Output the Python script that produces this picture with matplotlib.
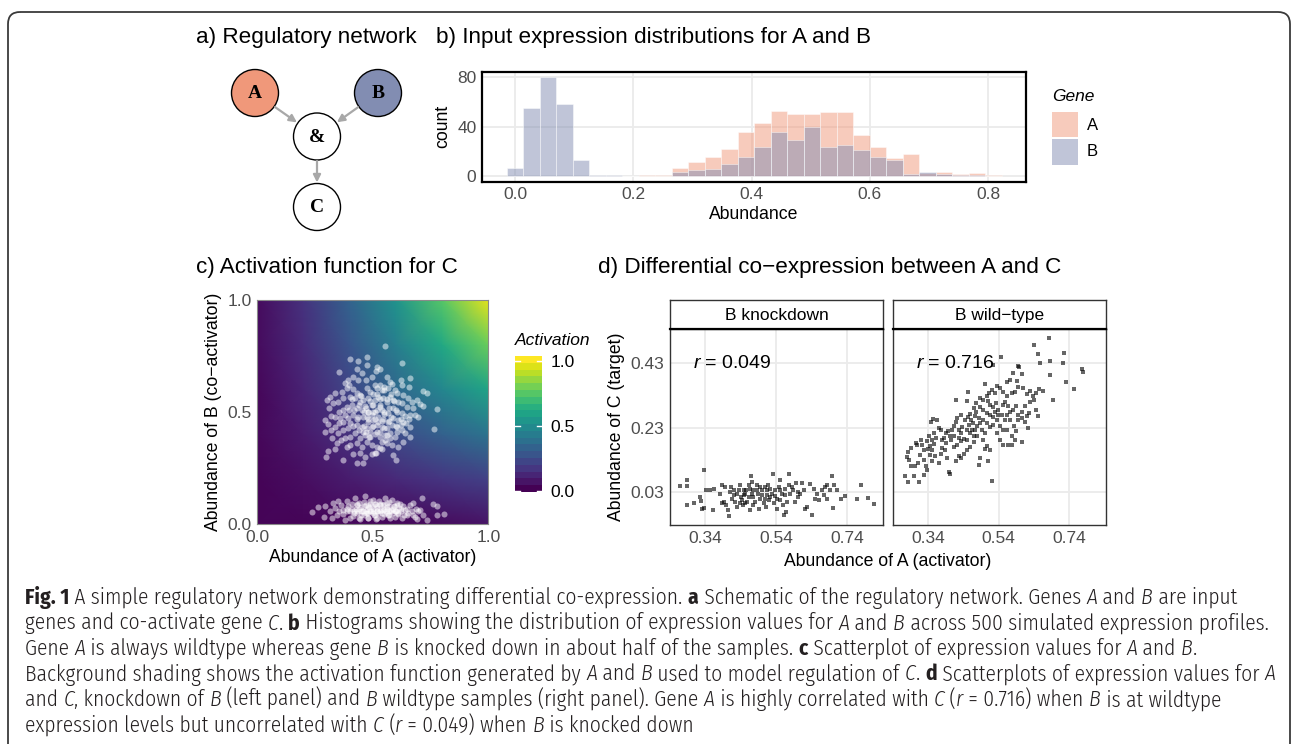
import numpy as np
import matplotlib
matplotlib.use("Agg")
import matplotlib.pyplot as plt
from matplotlib.patches import Circle, FancyBboxPatch, Rectangle, FancyArrowPatch
from matplotlib import font_manager

# ---------------- DATA ----------------
bin_width = 0.0279
count_A = [0, 0, 0, 0, 0, 0, 0, 0, 1, 1, 7, 12, 16, 22, 36, 43, 53, 50, 50, 52,
           52, 33, 24, 15, 18, 3, 4, 2, 3, 1]
count_B = [7, 55, 80, 58, 13, 1, 1, 0, 0, 0, 4, 5, 6, 10, 16, 24, 36, 29, 40, 24,
           25, 21, 16, 13, 2, 4, 2, 1, 1, 0]
hist_xticks = [0.0, 0.2, 0.4, 0.6, 0.8]
hist_yticks = [0, 40, 80]

# activation surface read on a 6x6 grid (rows: B = 0..1, cols: A = 0..1)
act_levels = [0.0, 0.2, 0.4, 0.6, 0.8, 1.0]
activation = [
    [0.00, 0.00, 0.01, 0.01, 0.02, 0.04],
    [0.00, 0.03, 0.07, 0.11, 0.15, 0.19],
    [0.01, 0.06, 0.14, 0.23, 0.31, 0.39],
    [0.01, 0.09, 0.21, 0.34, 0.47, 0.60],
    [0.02, 0.12, 0.27, 0.44, 0.62, 0.80],
    [0.02, 0.14, 0.32, 0.53, 0.76, 1.00],
]

# panel c: B wild-type samples (A, B)
wt_A = [0.553,0.401,0.437,0.476,0.473,0.517,0.531,0.514,0.625,0.355,0.430,0.416,0.452,0.380,0.391,0.398,
        0.437,0.470,0.495,0.560,0.574,0.620,0.661,0.625,0.658,0.719,0.733,0.776,0.765,0.315,0.336,0.365,
        0.387,0.413,0.430,0.444,0.473,0.488,0.502,0.517,0.531,0.538,0.548,0.567,0.582,0.596,0.606,0.632,
        0.654,0.668,0.690,0.704,0.719,0.646,0.625,0.610,0.589,0.574,0.560,0.545,0.524,0.509,0.495,0.481,
        0.459,0.444,0.423,0.401,0.372,0.351,0.329,0.312,0.300,0.317,0.293,0.307,0.336,0.355,0.372,0.387,
        0.408,0.430,0.452,0.466,0.481,0.495,0.517,0.531,0.548,0.567,0.586,0.603,0.625,0.639,0.661,0.683,
        0.697,0.675,0.658,0.632,0.610,0.589,0.567,0.545,0.524,0.502,0.481,0.459,0.437,0.416,0.394,0.372,
        0.355,0.336,0.317,0.293,0.322,0.351,0.372,0.394,0.413,0.430,0.452,0.473,0.495,0.517,0.538,0.560,
        0.582,0.603,0.625,0.639,0.661,0.632,0.596,0.574,0.553,0.531,0.509,0.488,0.466,0.444,0.423,0.401,
        0.380,0.401,0.430,0.452,0.473,0.495,0.517,0.538,0.560,0.538,0.509,0.495,0.466,0.444,0.416,0.387,
        0.372,0.336,0.307,0.297,0.430,0.459,0.514,0.531,0.589,0.600,0.553,0.582,0.610,0.343,0.361,0.603,
        0.574,0.485,0.456,0.524,0.502,0.473,0.398,0.380,0.358,0.661,0.644,0.620,
        0.47,0.49,0.51,0.53,0.55,0.57,0.52,0.48,0.50,0.54,0.56,0.58,0.46,0.44,0.43,0.52,0.55,0.49,0.46,
        0.59,0.60,0.51,0.53,0.45,0.57,0.50,0.54,0.48,0.42,0.56,0.40,0.62,0.47,0.53,0.58,0.44,0.41,0.51,
        0.55,0.60]
wt_B = [0.795,0.735,0.729,0.747,0.710,0.703,0.691,0.683,0.720,0.677,0.691,0.658,0.673,0.628,0.643,0.621,
        0.643,0.643,0.658,0.655,0.636,0.643,0.651,0.621,0.613,0.596,0.587,0.512,0.426,0.569,0.584,0.591,
        0.606,0.601,0.584,0.576,0.606,0.591,0.581,0.606,0.621,0.599,0.613,0.606,0.625,0.599,0.584,0.576,
        0.561,0.547,0.554,0.536,0.527,0.524,0.539,0.547,0.554,0.569,0.547,0.561,0.569,0.554,0.532,0.561,
        0.554,0.547,0.561,0.569,0.561,0.547,0.539,0.517,0.554,0.483,0.465,0.447,0.477,0.502,0.509,0.524,
        0.532,0.517,0.509,0.527,0.502,0.487,0.509,0.524,0.502,0.494,0.517,0.502,0.494,0.483,0.487,0.487,
        0.477,0.517,0.468,0.457,0.465,0.472,0.457,0.468,0.480,0.465,0.457,0.477,0.480,0.487,0.472,0.457,
        0.450,0.435,0.420,0.413,0.383,0.405,0.420,0.428,0.438,0.442,0.435,0.428,0.435,0.442,0.435,0.428,
        0.442,0.435,0.420,0.405,0.390,0.368,0.390,0.405,0.398,0.413,0.402,0.413,0.398,0.383,0.405,0.390,
        0.383,0.353,0.361,0.346,0.368,0.353,0.346,0.368,0.361,0.334,0.316,0.313,0.301,0.316,0.313,0.343,
        0.286,0.334,0.328,0.301,0.275,0.272,0.316,0.338,0.309,0.286,0.376,0.353,0.346,0.361,0.376,0.413,
        0.383,0.390,0.413,0.457,0.502,0.480,0.509,0.487,0.472,0.435,0.450,0.442,
        0.52,0.55,0.50,0.53,0.49,0.52,0.58,0.47,0.44,0.46,0.56,0.48,0.50,0.53,0.47,0.41,0.43,0.39,0.44,
        0.55,0.51,0.47,0.56,0.57,0.46,0.53,0.51,0.50,0.51,0.40,0.45,0.47,0.41,0.39,0.58,0.42,0.56,0.62,
        0.60,0.44]

# panel c: B knockdown samples (A, B)
kd_A = [0.235,0.264,0.293,0.289,0.315,0.329,0.336,0.351,0.344,0.361,0.370,0.380,0.387,0.394,0.401,0.408,
        0.416,0.423,0.427,0.433,0.442,0.447,0.456,0.462,0.466,0.471,0.476,0.481,0.488,0.495,0.499,0.505,
        0.509,0.517,0.524,0.528,0.534,0.540,0.546,0.553,0.557,0.563,0.567,0.572,0.577,0.582,0.586,0.592,
        0.596,0.600,0.606,0.610,0.615,0.621,0.625,0.632,0.639,0.647,0.654,0.661,0.668,0.675,0.683,0.687,
        0.697,0.712,0.719,0.733,0.759,0.776,0.776,0.808,0.372,0.387,0.401,0.430,0.445,0.473,0.491,0.514,
        0.531,0.548,0.560,0.574,0.589,0.603,0.618,0.635,0.649,0.673,0.690,0.704,0.355,0.419,0.452,0.485,
        0.520,0.543,0.572,0.596,0.322,
        0.42,0.44,0.46,0.48,0.50,0.52,0.54,0.56,0.58,0.45,0.47,0.49,0.51,0.53,0.55,0.57,0.43,0.41,0.59,
        0.61,0.46,0.50,0.52,0.44,0.48,0.55,0.62,0.39,0.47,0.53,0.49,0.51,0.45,0.57,0.60,0.43,0.52,0.48,
        0.56,0.50]
kd_B = [0.053,0.076,0.080,0.031,0.058,0.095,0.073,0.102,0.043,0.085,0.065,0.021,0.102,0.080,0.058,0.090,
        0.036,0.117,0.070,0.050,0.095,0.076,0.061,0.043,0.125,0.087,0.070,0.028,0.102,0.080,0.058,0.040,
        0.090,0.073,0.050,0.105,0.065,0.031,0.085,0.117,0.058,0.076,0.043,0.099,0.065,0.110,0.050,0.080,
        0.031,0.061,0.095,0.046,0.073,0.058,0.028,0.080,0.065,0.040,0.050,0.087,0.061,0.095,0.031,0.070,
        0.058,0.117,0.043,0.021,0.090,0.080,0.040,0.046,0.046,0.058,0.028,0.087,0.025,0.050,0.061,0.025,
        0.085,0.046,0.095,0.028,0.070,0.085,0.090,0.043,0.070,0.040,0.025,0.065,0.061,0.061,0.058,0.076,
        0.058,0.065,0.058,0.058,0.028,
        0.05,0.07,0.08,0.05,0.07,0.08,0.05,0.07,0.06,0.04,0.06,0.09,0.04,0.06,0.09,0.04,0.09,0.07,0.08,
        0.05,0.10,0.11,0.03,0.03,0.08,0.07,0.07,0.07,0.05,0.09,0.06,0.09,0.06,0.08,0.06,0.06,0.06,0.03,
        0.05,0.05]

# panel d: knockdown facet (A, C)
dkd_A = [0.268,0.288,0.288,0.335,0.288,0.307,0.324,0.328,0.331,0.335,0.343,0.352,0.362,0.364,0.382,0.387,
         0.387,0.392,0.396,0.399,0.403,0.406,0.411,0.412,0.415,0.420,0.425,0.429,0.434,0.439,0.441,0.444,
         0.446,0.453,0.456,0.458,0.462,0.467,0.469,0.471,0.475,0.476,0.481,0.486,0.488,0.491,0.495,0.500,
         0.505,0.509,0.512,0.514,0.516,0.519,0.523,0.528,0.531,0.533,0.538,0.542,0.547,0.550,0.552,0.556,
         0.559,0.561,0.566,0.569,0.572,0.575,0.577,0.580,0.585,0.589,0.594,0.597,0.601,0.603,0.608,0.613,
         0.618,0.622,0.627,0.635,0.641,0.648,0.651,0.655,0.660,0.669,0.674,0.679,0.683,0.685,0.693,0.699,
         0.702,0.704,0.712,0.723,0.735,0.770,0.779,0.801,0.817,
         0.429,0.448,0.462,0.472,0.486,0.500,0.509,0.523,0.453,0.439,0.420,0.467,0.495,0.476,0.514,0.538,
         0.542,0.552,0.566,0.448]
dkd_C = [0.049,0.066,0.048,0.099,-0.011,-0.003,0.014,0.002,-0.022,-0.020,0.035,0.037,-0.025,0.040,0.025,0.051,
         -0.006,-0.001,0.046,-0.011,-0.027,-0.046,0.030,0.046,0.009,0.020,-0.001,-0.017,0.035,0.051,0.014,0.004,
         -0.011,0.025,0.035,-0.001,0.051,-0.027,0.079,0.061,0.035,0.014,-0.001,0.051,0.025,-0.022,0.009,0.035,
         -0.006,0.046,-0.017,0.020,0.051,0.006,0.040,0.025,0.085,-0.006,0.017,-0.022,0.046,0.004,0.066,0.025,
         -0.011,-0.043,0.040,-0.032,-0.001,0.051,0.087,0.023,0.046,0.035,-0.001,0.058,0.030,0.014,0.025,0.058,
         0.035,-0.022,-0.017,0.056,-0.043,0.040,0.009,0.025,0.004,0.035,0.020,0.046,0.009,0.051,0.035,0.079,
         -0.020,0.051,0.037,0.009,0.017,0.009,0.053,0.012,-0.009,
         0.025,0.020,0.014,0.025,0.035,0.020,0.009,0.014,-0.006,-0.006,0.035,0.040,0.046,-0.011,0.035,0.035,
         0.009,0.035,0.020,0.035]

# panel d: wild-type facet (A, C)
dwt_A = [0.682,0.639,0.651,0.726,0.684,0.721,0.656,0.776,0.780,0.547,0.525,0.598,0.595,0.581,0.605,0.572,
         0.563,0.592,0.684,0.731,0.754,0.695,0.654,0.665,0.647,0.637,0.628,0.621,0.609,0.595,0.586,0.577,
         0.564,0.553,0.544,0.534,0.530,0.520,0.514,0.506,0.502,0.452,0.450,0.418,0.477,0.488,0.497,0.511,
         0.516,0.525,0.533,0.539,0.551,0.558,0.567,0.572,0.581,0.589,0.595,0.605,0.614,0.619,0.626,0.630,
         0.639,0.647,0.651,0.595,0.605,0.614,0.623,0.583,0.589,0.577,0.586,0.567,0.577,0.607,0.563,0.553,
         0.544,0.534,0.525,0.516,0.506,0.497,0.488,0.477,0.469,0.460,0.452,0.446,0.432,0.422,0.420,0.427,
         0.436,0.413,0.408,0.402,0.396,0.390,0.385,0.377,0.371,0.366,0.354,0.349,0.362,0.357,0.351,0.346,
         0.340,0.336,0.329,0.324,0.318,0.305,0.293,0.282,0.280,0.287,0.303,0.312,0.329,0.333,0.338,0.347,
         0.352,0.359,0.371,0.380,0.376,0.387,0.394,0.402,0.400,0.418,0.427,0.434,0.441,0.450,0.460,0.469,
         0.483,0.488,0.502,0.506,0.516,0.511,0.520,0.497,0.480,0.469,0.460,0.450,0.443,0.434,0.422,0.413,
         0.405,0.467,0.478,0.488,0.497,0.506,0.516,0.525,0.534,0.544,0.553,0.483,0.474,0.462,0.455,0.275,
         0.284,0.299,0.315,0.329,0.291,0.319,0.308,0.352,0.343,0.357,0.380,0.390,0.413,0.427,0.432,0.450,
         0.464,0.474,0.492,0.502,0.558,0.549,0.539,0.530,0.563,0.572]
dwt_C = [0.508,0.488,0.459,0.463,0.437,0.430,0.432,0.411,0.404,0.451,0.426,0.418,0.422,0.401,0.396,0.378,
         0.373,0.376,0.393,0.373,0.350,0.316,0.349,0.344,0.337,0.327,0.345,0.334,0.352,0.356,0.342,0.337,
         0.327,0.342,0.352,0.358,0.337,0.347,0.337,0.327,0.365,0.342,0.313,0.316,0.308,0.321,0.316,0.314,
         0.301,0.294,0.308,0.285,0.301,0.311,0.296,0.280,0.285,0.296,0.270,0.280,0.296,0.265,0.277,0.309,
         0.316,0.285,0.267,0.254,0.259,0.249,0.228,0.234,0.218,0.203,0.192,0.177,0.177,0.184,0.223,0.223,
         0.234,0.254,0.263,0.270,0.275,0.285,0.294,0.280,0.290,0.273,0.263,0.254,0.270,0.259,0.246,0.223,
         0.231,0.236,0.223,0.203,0.218,0.213,0.197,0.223,0.228,0.254,0.256,0.249,0.197,0.179,0.192,0.174,
         0.163,0.187,0.159,0.177,0.146,0.182,0.166,0.154,0.140,0.130,0.112,0.120,0.130,0.110,0.099,0.146,
         0.125,0.143,0.120,0.166,0.149,0.161,0.135,0.087,0.091,0.125,0.143,0.135,0.149,0.161,0.169,0.184,
         0.115,0.135,0.163,0.172,0.161,0.125,0.063,0.192,0.203,0.203,0.213,0.223,0.194,0.187,0.177,0.169,
         0.192,0.244,0.234,0.244,0.254,0.244,0.231,0.239,0.213,0.192,0.177,0.259,0.265,0.254,0.239,0.078,
         0.060,0.078,0.060,0.084,0.112,0.192,0.177,0.161,0.203,0.213,0.192,0.182,0.203,0.197,0.213,0.192,
         0.223,0.223,0.223,0.213,0.254,0.270,0.270,0.280,0.270,0.254]
d_xticks = [0.34, 0.54, 0.74]
d_yticks = [0.03, 0.23, 0.43]
r_knockdown = "0.049"
r_wildtype = "0.716"

# ---------------- STYLE ----------------
W, H = 1292, 744
plt.rcParams['font.family'] = ['Liberation Sans', 'DejaVu Sans']
plt.rcParams['mathtext.fontset'] = 'custom'
plt.rcParams['mathtext.it'] = 'Liberation Sans:italic'
plt.rcParams['mathtext.rm'] = 'Liberation Sans'
COL_A = '#F0987A'
COL_B = '#828DB2'
GRID = '#EBEBEB'
TICKC = '#4D4D4D'
LBL = 12.7

fig = plt.figure(figsize=(W / 100, H / 100), dpi=100)
fig.patch.set_facecolor('white')


def frac(x0, y0, x1, y1):
    return [x0 / W, 1 - y1 / H, (x1 - x0) / W, (y1 - y0) / H]


ov = fig.add_axes([0, 0, 1, 1], zorder=10)
ov.set_xlim(0, W)
ov.set_ylim(H, 0)
ov.axis('off')
ov.patch.set_alpha(0)

# frame
ov.add_patch(FancyBboxPatch((8, 12), 1282, 800, boxstyle="round,pad=0,rounding_size=12",
                            fc='none', ec='#3a3a3a', lw=1.3, clip_on=False))

TS = 16.2
ov.text(196, 43, "a) Regulatory network", fontsize=TS, va='baseline')
ov.text(436, 43, "b) Input expression distributions for A and B", fontsize=TS, va='baseline')
ov.text(196, 273, "c) Activation function for C", fontsize=TS, va='baseline')
ov.text(598, 273, "d) Differential co\u2212expression between A and C", fontsize=TS, va='baseline')

# ---------------- panel a ----------------
nodes = {'A': (255, 93, COL_A), 'B': (378, 93, COL_B), '&': (317, 136.5, 'white'), 'C': (317, 207, 'white')}
R = 23.5
for name, (x, y, c) in nodes.items():
    ov.add_patch(Circle((x, y), R, fc=c, ec='black', lw=1.0))
    ov.text(x, y + 1, name, ha='center', va='center', fontsize=14, fontweight='bold',
            family=['Liberation Serif', 'DejaVu Serif'])
for s, e in [('A', '&'), ('B', '&'), ('&', 'C')]:
    x0, y0, _ = nodes[s]
    x1, y1, _ = nodes[e]
    d = np.hypot(x1 - x0, y1 - y0)
    ux, uy = (x1 - x0) / d, (y1 - y0) / d
    ov.add_patch(FancyArrowPatch((x0 + ux * (R + 1), y0 + uy * (R + 1)), (x1 - ux * (R + 1), y1 - uy * (R + 1)),
                                 arrowstyle='-|>', mutation_scale=11, color='#A8A8A8', lw=1.6,
                                 shrinkA=0, shrinkB=0))

# ---------------- panel b ----------------
axb = fig.add_axes(frac(482, 71.7, 1026, 181.7))
centers = np.arange(len(count_A)) * bin_width
axb.bar(centers, count_A, width=bin_width, color=COL_A, alpha=0.5, edgecolor=(1, 1, 1, 0.5), lw=0.6, zorder=2)
axb.bar(centers, count_B, width=bin_width, color=COL_B, alpha=0.5, edgecolor=(1, 1, 1, 0.5), lw=0.6, zorder=3)
axb.set_xlim(-0.0557, 0.864)
axb.set_ylim(-4.2, 84.3)
axb.set_xticks(hist_xticks)
axb.set_xticklabels([f"{v:.1f}" for v in hist_xticks])
axb.set_yticks(hist_yticks)
axb.grid(True, color=GRID, lw=1.3, zorder=0)
axb.set_axisbelow(True)
for sp in axb.spines.values():
    sp.set_color('black')
    sp.set_linewidth(1.6)
axb.tick_params(length=0, labelsize=12.5, labelcolor=TICKC, pad=4)
axb.set_xlabel("Abundance", fontsize=LBL, labelpad=3)
axb.set_ylabel("count", fontsize=LBL, labelpad=4)

# legend for b
ov.text(1052, 101, "Gene", fontsize=12.5, fontstyle='italic', va='baseline')
ov.add_patch(Rectangle((1052, 112), 26, 25, fc=COL_A, alpha=0.5, ec='none'))
ov.add_patch(Rectangle((1052, 138.5), 26, 26, fc=COL_B, alpha=0.5, ec='none'))
ov.text(1087, 125, "A", fontsize=12, va='center')
ov.text(1087, 152, "B", fontsize=12, va='center')

# ---------------- panel c ----------------
VMIN, VMAX = -0.0102, 1.0385
axc = fig.add_axes(frac(257.3, 300, 488.3, 524.3))
gA, gB = np.meshgrid(act_levels, act_levels)
axc.pcolormesh(gA, gB, np.array(activation), shading='gouraud', cmap='viridis', vmin=VMIN, vmax=VMAX, zorder=0)
axc.scatter(wt_A, wt_B, s=19, c='white', alpha=0.5, linewidths=0, zorder=2)
axc.scatter(kd_A, kd_B, s=19, c='white', alpha=0.5, linewidths=0, zorder=2)
axc.set_xlim(0, 1)
axc.set_ylim(0, 1)
axc.set_xticks([0, 0.5, 1.0])
axc.set_yticks([0, 0.5, 1.0])
axc.set_xticklabels(["0.0", "0.5", "1.0"])
axc.set_yticklabels(["0.0", "0.5", "1.0"])
for sp in axc.spines.values():
    sp.set_color('#8a8a8a')
    sp.set_linewidth(0.8)
axc.tick_params(length=0, labelsize=12.5, labelcolor=TICKC, pad=4)
axc.set_xlabel("Abundance of A (activator)", fontsize=LBL, labelpad=3)
axc.set_ylabel("Abundance of B (co\u2212activator)", fontsize=LBL, labelpad=4)

# colorbar
axcb = fig.add_axes(frac(515, 356, 542, 492))
nb = 20
vals = np.linspace(VMIN, VMAX, nb).reshape(-1, 1)
axcb.imshow(vals, cmap='viridis', vmin=VMIN, vmax=VMAX, origin='lower', aspect='auto',
            extent=[0, 1, VMIN, VMAX], interpolation='nearest')
axcb.set_xlim(0, 1)
axcb.set_ylim(VMIN, VMAX)
for v in [0.0, 0.5, 1.0]:
    axcb.plot([0, 0.2], [v, v], color='white', lw=1.0)
    axcb.plot([0.8, 1.0], [v, v], color='white', lw=1.0)
axcb.set_xticks([])
axcb.set_yticks([0.0, 0.5, 1.0])
axcb.set_yticklabels(["0.0", "0.5", "1.0"])
axcb.yaxis.tick_right()
axcb.tick_params(length=0, labelsize=12.5, labelcolor='black', pad=6)
for sp in axcb.spines.values():
    sp.set_visible(False)
ov.text(515, 345, "Activation", fontsize=12.5, fontstyle='italic', va='baseline')

# ---------------- panel d ----------------
def facet(x0, x1, A, C, label, rtxt, show_y):
    ax = fig.add_axes(frac(x0, 329.3, x1, 525))
    ax.scatter(A, C, s=10, marker='s', c='black', alpha=0.6, linewidths=0, zorder=3)
    ax.set_xlim(0.24, 0.843)
    ax.set_ylim(-0.073, 0.536)
    ax.set_xticks(d_xticks)
    ax.set_yticks(d_yticks)
    ax.set_xticklabels([f"{v:.2f}" for v in d_xticks])
    ax.set_yticklabels([f"{v:.2f}" for v in d_yticks] if show_y else [])
    ax.grid(True, color=GRID, lw=1.3, zorder=0)
    ax.set_axisbelow(True)
    for sp in ax.spines.values():
        sp.set_color('#333333')
        sp.set_linewidth(1.0)
    ax.tick_params(length=0, labelsize=12.5, labelcolor=TICKC, pad=4)
    ax.text(0.305, 0.43, r"$\mathit{r}$ = " + rtxt, fontsize=14, va='center', ha='left', zorder=4)
    st = fig.add_axes(frac(x0, 300, x1, 329.3))
    st.set_xticks([])
    st.set_yticks([])
    for sp in st.spines.values():
        sp.set_color('#333333')
        sp.set_linewidth(1.0)
    st.spines['bottom'].set_linewidth(1.6)
    st.spines['bottom'].set_color('black')
    st.text(0.5, 0.47, label, ha='center', va='center', fontsize=12.5, transform=st.transAxes)
    return ax


axd1 = facet(670, 883.3, dkd_A, dkd_C, "B knockdown", r_knockdown, True)
axd2 = facet(892.7, 1105.7, dwt_A, dwt_C, "B wild\u2212type", r_wildtype, False)
axd1.set_ylabel("Abundance of C (target)", fontsize=LBL, labelpad=4)
ov.text(887.5, 566, "Abundance of A (activator)", fontsize=LBL, ha='center', va='baseline')

# ---------------- caption ----------------
def pick_family():
    for f in ['Fira Sans Condensed', 'Barlow Semi Condensed', 'IBM Plex Sans Condensed',
              'Encode Sans Condensed', 'PT Sans Narrow', 'Open Sans', 'Liberation Sans']:
        try:
            font_manager.findfont(font_manager.FontProperties(family=f), fallback_to_default=False)
            return f
        except Exception:
            pass
    return 'DejaVu Sans'


cap_family = pick_family()
caption_lines = [
    [("Fig. 1", 'b'), (" A simple regulatory network demonstrating differential co-expression. ", ''), ("a", 'b'),
     (" Schematic of the regulatory network. Genes ", ''), ("A", 'i'), (" and ", ''), ("B", 'i'), (" are input", '')],
    [("genes and co-activate gene ", ''), ("C", 'i'), (". ", ''), ("b", 'b'),
     (" Histograms showing the distribution of expression values for ", ''), ("A", 'i'), (" and ", ''), ("B", 'i'),
     (" across 500 simulated expression profiles.", '')],
    [("Gene ", ''), ("A", 'i'), (" is always wildtype whereas gene ", ''), ("B", 'i'),
     (" is knocked down in about half of the samples. ", ''), ("c", 'b'),
     (" Scatterplot of expression values for ", ''), ("A", 'i'), (" and ", ''), ("B", 'i'), (".", '')],
    [("Background shading shows the activation function generated by ", ''), ("A", 'i'), (" and ", ''), ("B", 'i'),
     (" used to model regulation of ", ''), ("C", 'i'), (". ", ''), ("d", 'b'),
     (" Scatterplots of expression values for ", ''), ("A", 'i')],
    [("and ", ''), ("C", 'i'), (", knockdown of ", ''), ("B", 'i'), (" (left panel) and ", ''), ("B", 'i'),
     (" wildtype samples (right panel). Gene ", ''), ("A", 'i'), (" is highly correlated with ", ''), ("C", 'i'),
     (" (", ''), ("r", 'i'), (" = 0.716) when ", ''), ("B", 'i'), (" is at wildtype", '')],
    [("expression levels but uncorrelated with ", ''), ("C", 'i'), (" (", ''), ("r", 'i'), (" = 0.049) when ", ''),
     ("B", 'i'), (" is knocked down", '')],
]
renderer = fig.canvas.get_renderer()


def run_kw(size, style):
    kw = dict(fontsize=size, family=[cap_family, 'DejaVu Sans'], fontweight=300)
    if style == 'b':
        kw['fontweight'] = 'bold'
    if style == 'i':
        kw['fontstyle'] = 'italic'
    return kw


def run_width(txt, size, style):
    kw = run_kw(size, style)
    t1 = ov.text(0, 0, txt + "|", **kw)
    t2 = ov.text(0, 0, "|", **kw)
    w = t1.get_window_extent(renderer).width - t2.get_window_extent(renderer).width
    t1.remove()
    t2.remove()
    return w


def line_width(runs, size):
    return sum(run_width(t, size, s) for t, s in runs)


cap_size = 10 * (1276 - 25) / line_width(caption_lines[3], 10)
baselines = [604, 629.5, 655, 680.5, 706, 731.5]
for runs, yb in zip(caption_lines, baselines):
    x = 25
    for txt, style in runs:
        w = run_width(txt, cap_size, style)
        ov.text(x, yb, txt, va='baseline', ha='left', color='#231F20', **run_kw(cap_size, style))
        x += w

fig.savefig("out.png", dpi=100, facecolor='white')
